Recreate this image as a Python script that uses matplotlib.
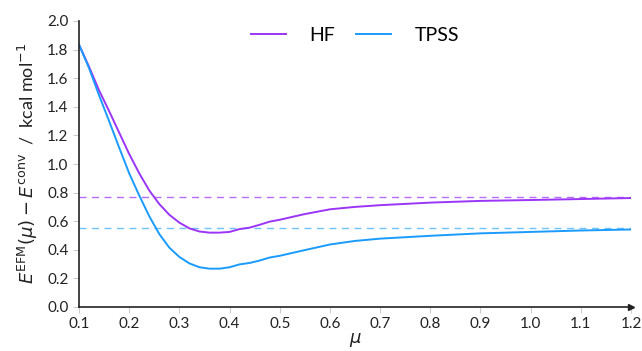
import numpy as np
import matplotlib
matplotlib.use("Agg")
import matplotlib.pyplot as plt

mu = [0.10, 0.12, 0.14, 0.16, 0.18, 0.20, 0.22, 0.24, 0.26, 0.28, 0.30, 0.32, 0.34,
      0.36, 0.38, 0.40, 0.42, 0.44, 0.46, 0.48, 0.50, 0.55, 0.60, 0.65, 0.70, 0.80,
      0.90, 1.00, 1.10, 1.20]
hf = [1.835, 1.68, 1.515, 1.37, 1.22, 1.07, 0.935, 0.815, 0.72, 0.645, 0.59, 0.55, 0.528,
      0.52, 0.52, 0.525, 0.545, 0.555, 0.575, 0.597, 0.610, 0.650, 0.683, 0.700, 0.712,
      0.730, 0.742, 0.748, 0.755, 0.762]
tpss = [1.835, 1.67, 1.48, 1.30, 1.115, 0.935, 0.78, 0.635, 0.51, 0.415, 0.35, 0.305, 0.278,
        0.268, 0.268, 0.278, 0.298, 0.308, 0.325, 0.346, 0.358, 0.398, 0.437, 0.462,
        0.478, 0.498, 0.515, 0.525, 0.535, 0.542]
hf_ref = 0.77
tpss_ref = 0.55

hf_color = "#9b35f7"
tpss_color = "#1a9bff"

plt.rcParams["font.family"] = ["Lato", "DejaVu Sans"]
plt.rcParams["mathtext.fontset"] = "dejavusans"

fig = plt.figure(figsize=(6.42, 3.51), dpi=100)
ax = fig.add_axes([79 / 642, 44 / 351, 552 / 642, 286 / 351])

ax.axhline(hf_ref, color="#b56cff", lw=1.0, ls=(0, (5, 4)))
ax.axhline(tpss_ref, color="#6cc4ff", lw=1.0, ls=(0, (5, 4)))
ax.plot(mu, hf, color=hf_color, lw=1.4, label="HF")
ax.plot(mu, tpss, color=tpss_color, lw=1.4, label="TPSS")

ax.set_xlim(0.1, 1.2)
ax.set_ylim(0.0, 2.0)
ax.set_xticks(np.arange(0.1, 1.21, 0.1))
ax.set_yticks(np.arange(0.0, 2.01, 0.2))
ax.set_xticklabels([f"{v:.1f}" for v in np.arange(0.1, 1.21, 0.1)])
ax.set_yticklabels([f"{v:.1f}" for v in np.arange(0.0, 2.01, 0.2)])

for s in ["top", "right"]:
    ax.spines[s].set_visible(False)
for s in ["left", "bottom"]:
    ax.spines[s].set_color("#222222")
    ax.spines[s].set_linewidth(1.2)
ax.tick_params(colors="#cccccc", labelcolor="#222222", labelsize=11, length=4, width=0.8)

# arrow at end of x axis
ax.plot(1, 0, ">", transform=ax.transAxes, clip_on=False, ms=4, color="#222222")

ax.set_xlabel(r"$\mu$", fontsize=13, color="#222222", labelpad=0)
ax.set_ylabel(r"$E^{\mathrm{EFM}}(\mu) - E^{\mathrm{conv}}$  /  kcal mol$^{-1}$",
              fontsize=13, color="#222222", labelpad=5)

ax.legend(loc="upper center", ncol=2, frameon=False, fontsize=14,
          handlelength=1.8, columnspacing=1.1, handletextpad=1.2,
          bbox_to_anchor=(0.5, 1.04))

fig.savefig("out.png", dpi=100)
